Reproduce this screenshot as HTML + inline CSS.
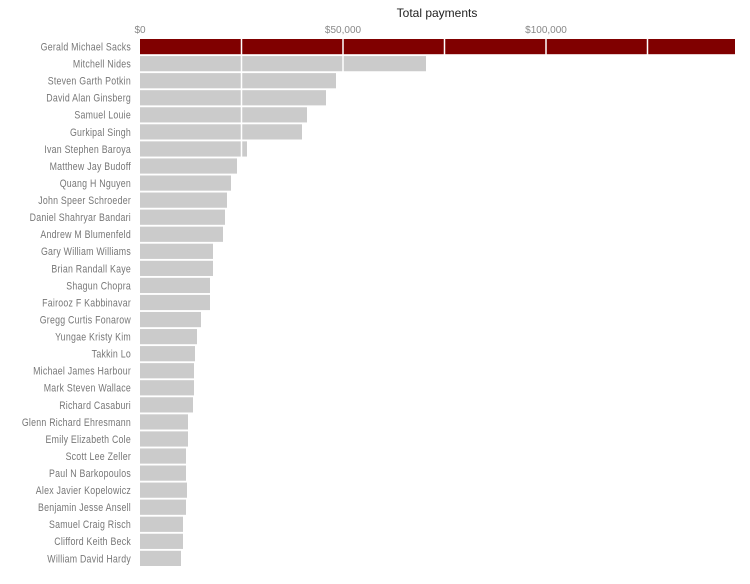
<!DOCTYPE html><html><head><style>body{margin:0;background:#fff}</style></head><body>
<svg width="750" height="579" xmlns="http://www.w3.org/2000/svg" font-family="Liberation Sans, sans-serif">
<text x="437" y="17" font-size="12" fill="#222" text-anchor="middle">Total payments</text>
<g font-size="10" fill="#888" text-anchor="middle">
<text x="140" y="33">$0</text><text x="343" y="33">$50,000</text><text x="546" y="33">$100,000</text></g>
<g id="bars"></g>
<g stroke="#fff" stroke-width="1.5">
<line x1="241.5" y1="38" x2="241.5" y2="160"/><line x1="343" y1="38" x2="343" y2="73"/><line x1="444.5" y1="38" x2="444.5" y2="55"/><line x1="546" y1="38" x2="546" y2="55"/><line x1="647.5" y1="38" x2="647.5" y2="55"/></g>
<g id="labs" font-size="11" fill="#777" text-anchor="end" letter-spacing="0.3" transform="scale(0.8,1)"></g>
</svg>
<script>
var d=[["Gerald Michael Sacks",735],["Mitchell Nides",426],["Steven Garth Potkin",336],["David Alan Ginsberg",326],["Samuel Louie",307],["Gurkipal Singh",302],["Ivan Stephen Baroya",247],["Matthew Jay Budoff",237],["Quang H Nguyen",231],["John Speer Schroeder",227],["Daniel Shahryar Bandari",225],["Andrew M Blumenfeld",223],["Gary William Williams",213],["Brian Randall Kaye",213],["Shagun Chopra",210],["Fairooz F Kabbinavar",210],["Gregg Curtis Fonarow",201],["Yungae Kristy Kim",197],["Takkin Lo",195],["Michael James Harbour",194],["Mark Steven Wallace",194],["Richard Casaburi",193],["Glenn Richard Ehresmann",188],["Emily Elizabeth Cole",188],["Scott Lee Zeller",186],["Paul N Barkopoulos",186],["Alex Javier Kopelowicz",187],["Benjamin Jesse Ansell",186],["Samuel Craig Risch",183],["Clifford Keith Beck",183],["William David Hardy",181]];
var ns="http://www.w3.org/2000/svg",b=document.getElementById("bars"),l=document.getElementById("labs");
d.forEach(function(r,i){var y=39+i*17.06;var e=document.createElementNS(ns,"rect");e.setAttribute("x",140);e.setAttribute("y",y);e.setAttribute("width",r[1]-140);e.setAttribute("height",15.2);e.setAttribute("fill",i?"#cbcbcb":"#800000");b.appendChild(e);
var t=document.createElementNS(ns,"text");t.setAttribute("x",131/0.8);t.setAttribute("y",y+11.5);t.textContent=r[0];l.appendChild(t);});
</script>
</body></html>
